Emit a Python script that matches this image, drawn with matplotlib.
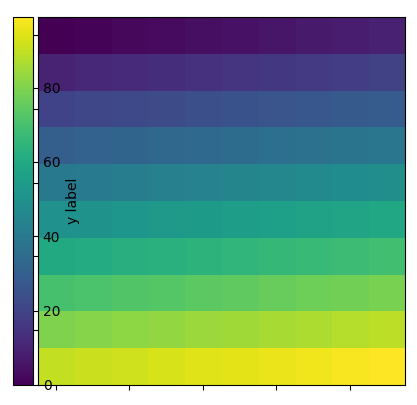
import numpy as np
import matplotlib
matplotlib.use("Agg")
import matplotlib.pyplot as plt

# 10x10 grid of values, one list per image row (top row first)
row0 = [0, 1, 2, 3, 4, 5, 6, 7, 8, 9]
row1 = [10, 11, 12, 13, 14, 15, 16, 17, 18, 19]
row2 = [20, 21, 22, 23, 24, 25, 26, 27, 28, 29]
row3 = [30, 31, 32, 33, 34, 35, 36, 37, 38, 39]
row4 = [40, 41, 42, 43, 44, 45, 46, 47, 48, 49]
row5 = [50, 51, 52, 53, 54, 55, 56, 57, 58, 59]
row6 = [60, 61, 62, 63, 64, 65, 66, 67, 68, 69]
row7 = [70, 71, 72, 73, 74, 75, 76, 77, 78, 79]
row8 = [80, 81, 82, 83, 84, 85, 86, 87, 88, 89]
row9 = [90, 91, 92, 93, 94, 95, 96, 97, 98, 99]
grid = np.array([row0, row1, row2, row3, row4, row5, row6, row7, row8, row9])

cbar_label = "y label"

W, H = 417, 405
fig = plt.figure(figsize=(W / 100, H / 100), dpi=100)

# main image axes first so the colorbar labels sit on top of it
ax = fig.add_axes([37.5 / W, 20 / H, 367.5 / W, 368 / H])
im = ax.imshow(grid, cmap="viridis", aspect="auto")
ax.set_xticks([0, 2, 4, 6, 8])
ax.set_yticks([0, 2, 4, 6, 8])
ax.set_xticklabels([])
ax.set_yticklabels([])

cax = fig.add_axes([13 / W, 20 / H, 20 / W, 368 / H])
cb = fig.colorbar(im, cax=cax)
cb.set_label(cbar_label)

fig.savefig("out.png", dpi=100)
